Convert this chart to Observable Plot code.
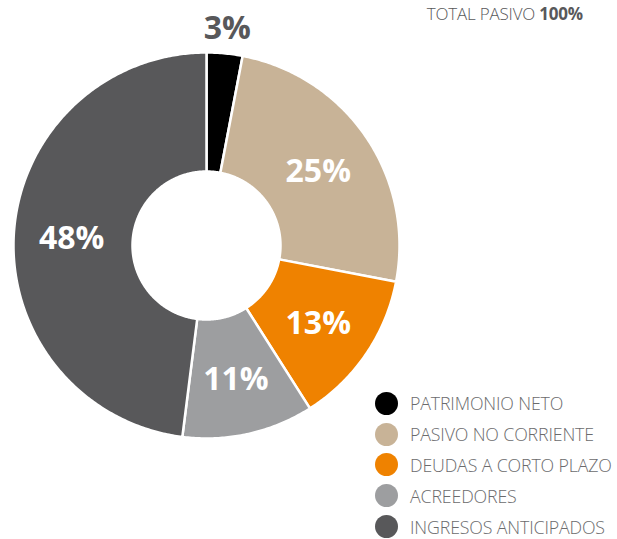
<!DOCTYPE html>
<html>
<head>
<meta charset="utf-8">
<script src="https://cdn.jsdelivr.net/npm/d3@7"></script>
<script src="https://cdn.jsdelivr.net/npm/@observablehq/plot@0.6"></script>
<style>
  html, body { margin: 0; padding: 0; background: #fff; }
  #wrap { position: relative; width: 617px; height: 539px; overflow: hidden; font-family: "Open Sans", sans-serif; }
  #title { position: absolute; right: 34px; top: 3px; font-size: 17px; line-height: 22px; color: #58585a; letter-spacing: -0.2px; font-weight: 300; }
  #title b { font-weight: 700; }
  #legend { position: absolute; left: 375px; top: 388px; }
  .row { display: flex; align-items: center; height: 30.8px; font-size: 17.8px; color: #6b6b6d; font-weight: 300; letter-spacing: -0.15px; line-height: 16px; }
  .sw { width: 23px; height: 23px; border-radius: 50%; margin-right: 12px; flex: none; }
</style>
</head>
<body>
<div id="wrap">
  <div id="chart"></div>
  <div id="title">TOTAL PASIVO <b>100%</b></div>
  <div id="legend"></div>
</div>
<script>
const categories = ["PATRIMONIO NETO", "PASIVO NO CORRIENTE", "DEUDAS A CORTO PLAZO", "ACREEDORES", "INGRESOS ANTICIPADOS"];
const values = [3, 25, 13, 11, 48];
const colors = ["#000000", "#c8b397", "#ef8200", "#9d9ea0", "#58585a"];
const labels = ["3%", "25%", "13%", "11%", "48%"];

const W = 617, H = 539;
const cx = 206, cy = 245, R = 193;   // layout of the donut in pixels
const inner = 74 / R;

const pie = d3.pie().sort(null).value(d => d.value)(categories.map((c, i) => ({cat: c, value: values[i], label: labels[i]})));

// polygon points per slice in unit coordinates (y up)
const pts = [];
pie.forEach(p => {
  const n = Math.max(4, Math.ceil((p.endAngle - p.startAngle) / 0.01));
  for (let k = 0; k <= n; k++) {
    const a = p.startAngle + (p.endAngle - p.startAngle) * k / n;
    pts.push({cat: p.data.cat, x: Math.sin(a), y: Math.cos(a)});
  }
  for (let k = n; k >= 0; k--) {
    const a = p.startAngle + (p.endAngle - p.startAngle) * k / n;
    pts.push({cat: p.data.cat, x: inner * Math.sin(a), y: inner * Math.cos(a)});
  }
});

const labelData = pie.map(p => {
  const mid = (p.startAngle + p.endAngle) / 2;
  const small = p.data.value < 5;
  const r = small ? 1.14 : 0.7;
  return {x: r * Math.sin(mid), y: r * Math.cos(mid), label: p.data.label, outside: small};
});

const plot = Plot.plot({
  width: W, height: H,
  margin: 0,
  x: {domain: [-cx / R, (W - cx) / R], range: [0, W], axis: null},
  y: {domain: [-(H - cy) / R, cy / R], range: [H, 0], axis: null},
  color: {domain: categories, range: colors},
  style: {fontFamily: "'Open Sans', sans-serif", background: "transparent"},
  marks: [
    Plot.line(pts, {x: "x", y: "y", z: "cat", fill: "cat", stroke: "white", strokeWidth: 2.5, curve: "linear-closed"}),
    Plot.text(labelData, {x: "x", y: "y", text: "label", fill: d => d.outside ? "#58585a" : "white", fontSize: 32, fontWeight: 700, dy: 2})
  ]
});
document.getElementById("chart").appendChild(plot);

const leg = d3.select("#legend");
categories.forEach((c, i) => {
  const row = leg.append("div").attr("class", "row");
  row.append("div").attr("class", "sw").style("background", colors[i]);
  row.append("span").text(c);
});
</script>
</body>
</html>
